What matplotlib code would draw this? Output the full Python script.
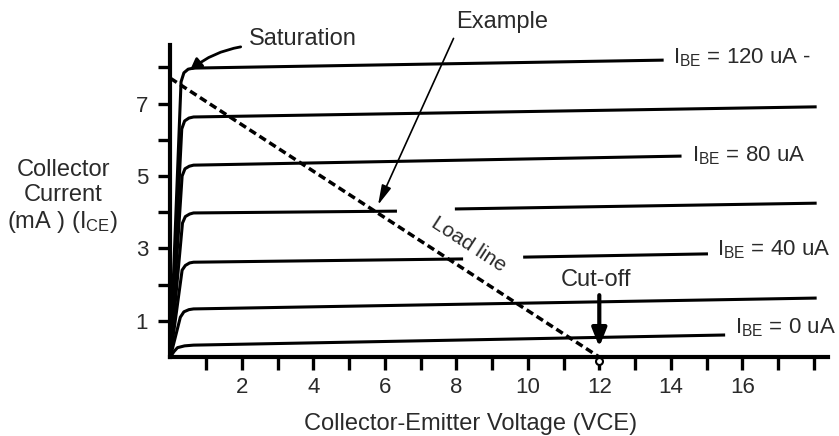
import matplotlib
matplotlib.use('Agg')
import matplotlib.pyplot as plt
import numpy as np

plt.rcParams['font.family'] = ['Liberation Sans', 'DejaVu Sans']
plt.rcParams['mathtext.default'] = 'regular'

# Data: collector current (mA) vs collector-emitter voltage (V), one curve per base current
vce_120 = [0.0, 0.3, 0.38, 0.5, 0.65, 13.8]
ice_120 = [0.0, 7.6, 7.85, 7.95, 7.98, 8.2]
vce_100 = [0.0, 0.32, 0.4, 0.52, 0.65, 18.08]
ice_100 = [0.0, 6.3, 6.52, 6.6, 6.63, 6.91]
vce_80 = [0.0, 0.33, 0.41, 0.53, 0.65, 14.3]
ice_80 = [0.0, 5.0, 5.2, 5.27, 5.3, 5.55]
vce_60 = [0.0, 0.34, 0.42, 0.54, 0.65, 6.34, np.nan, 7.96, 18.08]
ice_60 = [0.0, 3.7, 3.88, 3.95, 3.98, 4.03, np.nan, 4.09, 4.25]
vce_40 = [0.0, 0.33, 0.42, 0.54, 0.65, 8.19, np.nan, 9.87, 15.04]
ice_40 = [0.0, 2.4, 2.53, 2.6, 2.62, 2.71, np.nan, 2.76, 2.85]
vce_20 = [0.0, 0.28, 0.38, 0.52, 0.65, 18.08]
ice_20 = [0.0, 1.1, 1.25, 1.31, 1.33, 1.63]
vce_0 = [0.0, 0.1, 0.2, 0.4, 0.65, 15.52]
ice_0 = [0.0, 0.15, 0.26, 0.31, 0.33, 0.61]

load_v = [0.0, 12.0]
load_i = [7.7, 0.0]

xticks = list(range(1, 19))
xticklabels = ['', '2', '', '4', '', '6', '', '8', '', '10', '', '12', '', '14', '', '16', '', '']
yticks = list(range(1, 9))
yticklabels = ['1', '', '3', '', '5', '', '7', '']

curve_labels = ['I$_{BE}$ = 120 uA -', 'I$_{BE}$ = 80 uA', 'I$_{BE}$ = 40 uA', 'I$_{BE}$ = 0 uA']
curve_label_v = [14.06, 14.6, 15.3, 15.8]
curve_label_i = [8.26, 5.55, 2.96, 0.80]

txt = '#2a2a2a'
fs = 17

fig = plt.figure(figsize=(8.39, 4.36), dpi=100)
ax = fig.add_axes([0.203, 0.181, 0.784, 0.716])

for v, i in [(vce_120, ice_120), (vce_100, ice_100), (vce_80, ice_80),
             (vce_60, ice_60), (vce_40, ice_40), (vce_20, ice_20), (vce_0, ice_0)]:
    ax.plot(v, i, color='black', lw=2.2, solid_capstyle='butt', clip_on=False)

# load line
ln, = ax.plot(load_v, load_i, color='black', lw=2.5, clip_on=False)
ln.set_dashes((2.2, 1.2))

# cut-off marker on the axis
ax.plot([12], [-0.12], marker='o', ms=5, mfc='white', mec='black', mew=1.5,
        clip_on=False, zorder=5)

ax.set_xlim(0, 18.4)
ax.set_ylim(0, 8.62)
for s in ['top', 'right']:
    ax.spines[s].set_visible(False)
for s in ['left', 'bottom']:
    ax.spines[s].set_linewidth(3)
ax.set_xticks(xticks)
ax.set_xticklabels(xticklabels)
ax.set_yticks(yticks)
ax.set_yticklabels(yticklabels)
ax.tick_params(direction='out', length=9, width=2.4, labelsize=16,
               labelcolor=txt)
ax.tick_params(axis='x', pad=5)
ax.tick_params(axis='y', pad=7)

for lab, v, i in zip(curve_labels, curve_label_v, curve_label_i):
    ax.text(v, i, lab, fontsize=16, color=txt, va='center', ha='left', clip_on=False)

# annotations
ax.annotate('Saturation', xy=(0.55, 7.92), xytext=(2.2, 8.78), fontsize=fs, color=txt,
            va='center', ha='left', annotation_clip=False,
            arrowprops=dict(arrowstyle='-|>', lw=2, color='black', relpos=(0, 0.2),
                            shrinkA=4, shrinkB=0, connectionstyle='arc3,rad=0.15'))
ax.annotate('Example', xy=(5.81, 4.2), xytext=(7.99, 9.25), fontsize=fs, color=txt,
            va='center', ha='left', annotation_clip=False,
            arrowprops=dict(arrowstyle='-|>,head_width=0.15,head_length=0.6', lw=1.2,
                            color='black', relpos=(0, 0), shrinkA=2, shrinkB=0,
                            mutation_scale=20))
ax.annotate('', xy=(12, 0.28), xytext=(12, 1.71), annotation_clip=False,
            arrowprops=dict(arrowstyle='-|>,head_width=0.22,head_length=0.55', lw=3,
                            color='black', shrinkA=0, shrinkB=0, mutation_scale=20))
ax.text(11.9, 2.13, 'Cut-off', fontsize=fs, color=txt, ha='center', va='center')
ax.text(8.33, 3.12, 'Load line', fontsize=15, color=txt, rotation=-33,
        ha='center', va='center', rotation_mode='anchor')

fig.text(63 / 839, 1 - 197 / 436, 'Collector\nCurrent\n(mA ) (I$_{CE}$)', fontsize=fs,
         color=txt, ha='center', va='center', multialignment='center', linespacing=1.15)
fig.text(471 / 839, 1 - 424 / 436, 'Collector-Emitter Voltage (VCE)', fontsize=fs,
         color=txt, ha='center', va='center')

fig.savefig('out.png', dpi=100)
